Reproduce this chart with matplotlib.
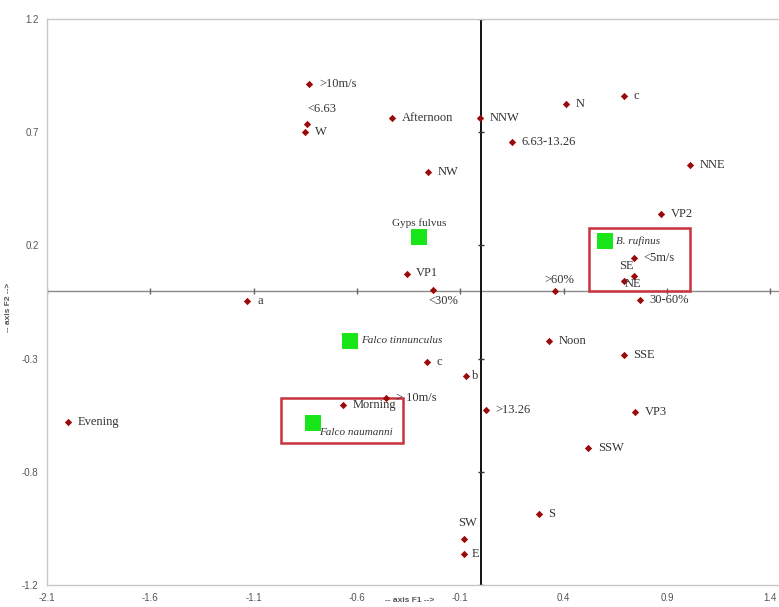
import matplotlib
matplotlib.use("Agg")
from matplotlib import pyplot as plt
from matplotlib.patches import Rectangle

plt.rcParams["axes.unicode_minus"] = False

# variable categories (red points) on the F1/F2 map
var_names = [">10m/s", "<6.63", "W", "Afternoon", "NNW", "6.63-13.26", "NW",
             "VP1", "<30%", "N", "c", "NNE", "VP2", "<5m/s", "SE", "NE",
             ">60%", "30-60%", "a", "Evening", "> 10m/s", "Morning", "Noon",
             "SSE", "c ", "b", ">13.26", "VP3", "SSW", "S", "SW", "E"]
var_f1 = [-0.83, -0.84, -0.85, -0.43, -0.005, 0.15, -0.255,
          -0.36, -0.23, 0.41, 0.69, 1.01, 0.87, 0.74, 0.74, 0.69,
          0.36, 0.77, -1.13, -2.0, -0.46, -0.67, 0.33,
          0.69, -0.26, -0.075, 0.023, 0.745, 0.52, 0.28, -0.08, -0.08]
var_f2 = [0.915, 0.737, 0.70, 0.762, 0.764, 0.656, 0.525,
          0.074, 0.004, 0.826, 0.86, 0.556, 0.338, 0.145, 0.066, 0.041,
          -0.003, -0.04, -0.044, -0.578, -0.475, -0.504, -0.223,
          -0.282, -0.317, -0.376, -0.527, -0.537, -0.696, -0.987, -1.096, -1.164]

# species (green squares)
sp_names = ["Gyps fulvus", "B. rufinus", "Falco tinnunculus", "Falco naumanni"]
sp_f1 = [-0.30, 0.60, -0.635, -0.815]
sp_f2 = [0.236, 0.218, -0.221, -0.583]

# highlight boxes (x0, x1, y0, y1)
box_x0 = [0.523, -0.968]
box_x1 = [1.012, -0.378]
box_y0 = [-0.003, -0.673]
box_y1 = [0.279, -0.473]

x_ticks = [-2.1, -1.6, -1.1, -0.6, -0.1, 0.4, 0.9, 1.4]
y_ticks = [1.2, 0.7, 0.2, -0.3, -0.8, -1.3]
y_tick_labels = ["1.2", "0.7", "0.2", "-0.3", "-0.8", "-1.2"]

# label placement in points: (dx, dy, ha, va)
default_off = (7, 0, "left", "center")
label_off = {
    "<6.63": (0, 6, "left", "bottom"),
    "VP1": (7, 1, "left", "center"),
    "<30%": (-4, -4, "left", "top"),
    "SE": (-11, 3, "left", "bottom"),
    "NE": (1, -2, "left", "center"),
    ">60%": (-8, 4, "left", "bottom"),
    "SW": (2, 7, "center", "bottom"),
    "b": (5, 0, "left", "center"),
    "E": (5, 0, "left", "center"),
}
sp_off = {
    "Gyps fulvus": (0, 7, "center", "bottom"),
    "B. rufinus": (8, 0, "left", "center"),
    "Falco tinnunculus": (8, 0, "left", "center"),
    "Falco naumanni": (5, -7, "left", "center"),
}

fig = plt.figure(figsize=(7.79, 6.07), dpi=100)
ax = fig.add_axes([47 / 779, 22 / 607, 744 / 779, 566 / 607])
ax.set_xlim(-2.1, 1.5)
ax.set_ylim(-1.3, 1.2)

for s in ax.spines.values():
    s.set_color("#c8c8c8")
    s.set_linewidth(1.0)
ax.spines["right"].set_visible(False)

ax.set_xticks(x_ticks)
ax.set_yticks(y_ticks)
ax.set_yticklabels(y_tick_labels)
ax.tick_params(length=0, labelsize=7, colors="#555555", pad=6)
for lab in ax.get_xticklabels() + ax.get_yticklabels():
    lab.set_family("Liberation Sans")

# zero axes with their own small ticks
ax.axhline(0, color="#8a8a8a", lw=1.0, zorder=1)
ax.axvline(0, color="#111111", lw=1.4, zorder=1)
ax.plot(x_ticks, [0] * len(x_ticks), ls="none", marker="|", ms=5, color="#666666", zorder=1)
ax.plot([0] * len(y_ticks), y_ticks, ls="none", marker="_", ms=5, color="#333333", zorder=1)

for x0, x1, y0, y1 in zip(box_x0, box_x1, box_y0, box_y1):
    ax.add_patch(Rectangle((x0, y0), x1 - x0, y1 - y0, fill=False,
                           edgecolor="#c8323c", lw=1.8, zorder=2))

ax.scatter(var_f1, var_f2, marker="D", s=14, color="#9b0a0a", zorder=3, linewidths=0)
ax.scatter(sp_f1, sp_f2, marker="s", s=120, color="#19e619", zorder=3, linewidths=0)

for name, x, y in zip(var_names, var_f1, var_f2):
    dx, dy, ha, va = label_off.get(name.strip(), default_off)
    ax.annotate(name.strip(), (x, y), xytext=(dx, dy), textcoords="offset points",
                ha=ha, va=va, fontsize=9, family="Liberation Serif", color="#333333", zorder=4)

for name, x, y in zip(sp_names, sp_f1, sp_f2):
    dx, dy, ha, va = sp_off[name]
    ax.annotate(name, (x, y), xytext=(dx, dy), textcoords="offset points",
                ha=ha, va=va, fontsize=8, family="Liberation Serif", color="#333333",
                style="normal" if name == "Gyps fulvus" else "italic", zorder=4)

fig.text(410 / 779, 6 / 607, "-- axis F1 -->", fontsize=6, color="#555555",
         ha="center", va="center", weight="bold", family="Liberation Sans")
fig.text(9 / 779, 300 / 607, "-- axis F2 -->", fontsize=6, color="#555555",
         ha="center", va="center", rotation=90, weight="bold", family="Liberation Sans")

fig.savefig("out.png", dpi=100)
